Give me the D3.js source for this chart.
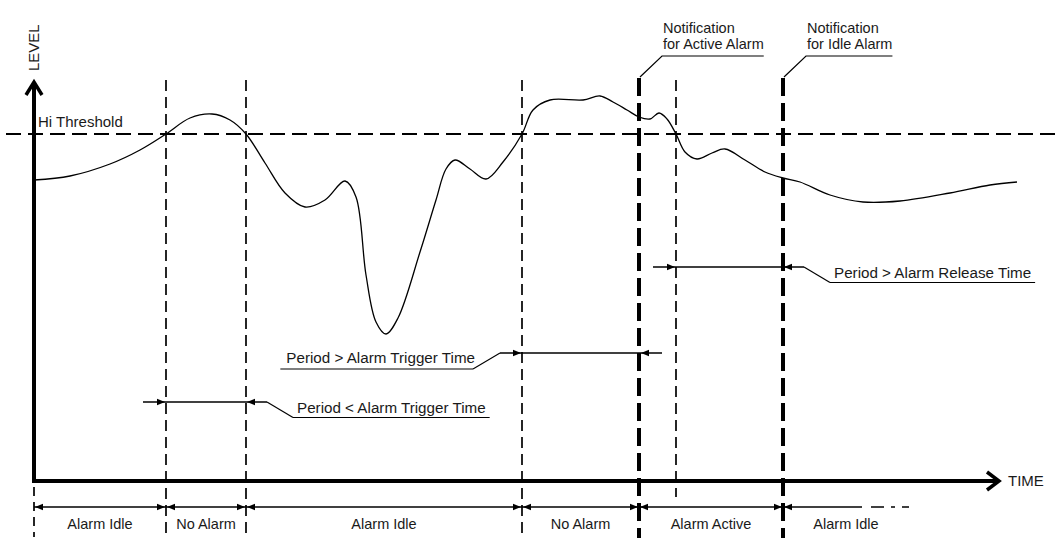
<!DOCTYPE html>
<html><head><meta charset="utf-8">
<script src="https://cdn.jsdelivr.net/npm/d3@7"></script>
<style>
body{margin:0;background:#fff}
text{font-family:"Liberation Sans",Arial,sans-serif;fill:#1a1a1a;font-size:14.5px}
</style>
</head><body><svg id="c" width="1062" height="554"></svg>
<script>
// ---- data (time units along x, level units along y) ----
const levelTimes  = [0,36,76,106,132,156,178,196,212,231,251,271,291,311,322,332,342,352,364,386,402,412,421,436,452,469,488,499,516,549,566,579,593,605,616,625,633,642,651,663,678,691,711,731,749,766,796,829,866,916,956,983];
const levelValues = [301,305,317,331,347,363,367,361,347,318,288,274,281,300,284,206,159,147,163,229,281,312,321,312,302,319,347,371,381,381,385,379,371,364,362,368,362,347,329,322,328,332,321,309,303,299,286,279,280,288,296,299];
const threshold = 347;
const thresholdLabel = "Hi Threshold";
const thinMarkers  = [132, 212, 488, 642];
const thickMarkers = [605, 749];
const segmentBounds = [0, 132, 212, 488, 605, 749];
const segmentLabels = ["Alarm Idle", "No Alarm", "Alarm Idle", "No Alarm", "Alarm Active", "Alarm Idle"];
const openEnd = 828;
const periodLabels = ["Period < Alarm Trigger Time", "Period > Alarm Trigger Time", "Period > Alarm Release Time"];
const periodStart = [132, 488, 642];
const periodEnd   = [212, 605, 749];
const periodLevel = [79, 128, 214];
const periodSide  = ["right", "left", "right"];
const notificationLabels = [["Notification", "for Active Alarm"], ["Notification", "for Idle Alarm"]];
const notificationTimes = [605, 749];
const axisLabels = {x: "TIME", y: "LEVEL"};

// ---- scales ----
const x = d3.scaleLinear().domain([0, 966]).range([34, 1000]);
const y = d3.scaleLinear().domain([0, 401]).range([481, 80]);

const svg = d3.select("#c");
svg.append("rect").attr("width",1062).attr("height",554).attr("fill","#fff");

function arrowHead(g, px, py, dir) { // dir: +1 points right, -1 points left
  g.append("path")
    .attr("d", `M${px},${py}L${px - dir*8},${py-3.2}L${px - dir*8},${py+3.2}Z`)
    .attr("fill", "#000");
}

// threshold line
svg.append("line").attr("x1", 6).attr("x2", 1062)
  .attr("y1", y(threshold)).attr("y2", y(threshold))
  .attr("stroke", "#000").attr("stroke-width", 2.2).attr("stroke-dasharray", "15,7");
svg.append("text").attr("x", 38).attr("y", y(threshold) - 7).style("font-size","15px").text(thresholdLabel);

// thin vertical markers
thinMarkers.forEach((t, i) => {
  svg.append("line").attr("x1", x(t)).attr("x2", x(t))
    .attr("y1", 80).attr("y2", t === 642 ? 497 : 537)
    .attr("stroke", "#000").attr("stroke-width", 1.7).attr("stroke-dasharray", "11,6");
});
// dashed under origin
svg.append("line").attr("x1", x(0)).attr("x2", x(0)).attr("y1", 487).attr("y2", 537)
  .attr("stroke", "#000").attr("stroke-width", 1.7).attr("stroke-dasharray", "9,6");

// thick markers
thickMarkers.forEach(t => {
  svg.append("line").attr("x1", x(t)).attr("x2", x(t))
    .attr("y1", 78).attr("y2", 538)
    .attr("stroke", "#000").attr("stroke-width", 4).attr("stroke-dasharray", "18,7");
});

// level curve
const line = d3.line().x((d, i) => x(levelTimes[i])).y(d => y(d)).curve(d3.curveCatmullRom.alpha(0.5));
svg.append("path").attr("d", line(levelValues))
  .attr("fill", "none").attr("stroke", "#000").attr("stroke-width", 1.3);

// axes
svg.append("line").attr("x1", x(0)).attr("x2", x(0)).attr("y1", 82).attr("y2", 483)
  .attr("stroke", "#000").attr("stroke-width", 4);
svg.append("path").attr("d", `M${x(0)-8},${95}L${x(0)},${82}L${x(0)+8},${95}`)
  .attr("fill", "none").attr("stroke", "#000").attr("stroke-width", 3.5);
svg.append("line").attr("x1", x(0) - 2).attr("x2", 998).attr("y1", y(0)).attr("y2", y(0))
  .attr("stroke", "#000").attr("stroke-width", 4);
svg.append("path").attr("d", `M${987},${y(0)-9}L${999},${y(0)}L${987},${y(0)+9}`)
  .attr("fill", "none").attr("stroke", "#000").attr("stroke-width", 3.5);
svg.append("text").attr("x", 1008).attr("y", y(0) + 5).style("font-size","15px").text(axisLabels.x);
svg.append("text").attr("transform", `translate(${x(0)+5},71) rotate(-90)`).style("font-size","15px").text(axisLabels.y);

// bottom state brackets
const by = 507;
const segEnds = segmentBounds.slice(1).concat([openEnd]);
segmentBounds.forEach((a, i) => {
  const b = segEnds[i];
  const last = i === segmentBounds.length - 1;
  svg.append("line").attr("x1", x(a)).attr("x2", x(b)).attr("y1", by).attr("y2", by)
    .attr("stroke", "#000").attr("stroke-width", 1.6);
  arrowHead(svg, x(a) + 1, by, -1);
  if (!last) arrowHead(svg, x(b) - 1, by, 1);
  const cx = last ? x(a) + 63 : (x(a) + x(b)) / 2;
  svg.append("text").attr("x", cx).attr("y", by + 22).attr("text-anchor", "middle").text(segmentLabels[i]);
});
svg.append("line").attr("x1", x(openEnd) + 9).attr("x2", x(openEnd) + 47).attr("y1", by).attr("y2", by)
  .attr("stroke", "#000").attr("stroke-width", 1.6).attr("stroke-dasharray", "13,7,4,7,7");

// period annotations
periodLabels.forEach((lab, i) => {
  const a = x(periodStart[i]), b = x(periodEnd[i]), py = y(periodLevel[i]);
  const g = svg.append("g");
  if (periodSide[i] === "right") {
    g.append("line").attr("x1", a - 23).attr("x2", b + 21).attr("y1", py).attr("y2", py).attr("stroke","#000").attr("stroke-width",1.6);
    arrowHead(g, a - 1, py, 1);
    arrowHead(g, b + 1, py, -1);
    g.append("path").attr("d", `M${b+21},${py}L${b+47},${py+15.5}`).attr("fill","none").attr("stroke","#000").attr("stroke-width",1.2);
    const t = g.append("text").attr("x", b + 51).attr("y", py + 11).style("font-size","15.2px").text(lab);
    const w = t.node().getComputedTextLength();
    g.append("line").attr("x1", b + 47).attr("x2", b + 55 + w).attr("y1", py + 15.5).attr("y2", py + 15.5).attr("stroke","#000").attr("stroke-width",1.2);
  } else {
    g.append("line").attr("x1", a - 22).attr("x2", b + 23).attr("y1", py).attr("y2", py).attr("stroke","#000").attr("stroke-width",1.6);
    arrowHead(g, a - 1, py, 1);
    arrowHead(g, b + 2, py, -1);
    g.append("path").attr("d", `M${a-22},${py}L${a-49},${py+16}`).attr("fill","none").attr("stroke","#000").attr("stroke-width",1.2);
    const t = g.append("text").attr("x", a - 47).attr("y", py + 10).attr("text-anchor","end").style("font-size","15.2px").text(lab);
    const w = t.node().getComputedTextLength();
    g.append("line").attr("x1", a - 49).attr("x2", a - 51 - w - 2).attr("y1", py + 16).attr("y2", py + 16).attr("stroke","#000").attr("stroke-width",1.2);
  }
});

// notifications
notificationLabels.forEach((lines, i) => {
  const px = x(notificationTimes[i]);
  const g = svg.append("g");
  let wmax = 0;
  lines.forEach((l, j) => {
    const t = g.append("text").attr("x", px + 24).attr("y", 33 + j * 16).text(l);
    wmax = Math.max(wmax, t.node().getComputedTextLength());
  });
  g.append("path").attr("d", `M${px+1},${77}L${px+23},${56}L${px+24+wmax},${56}`)
    .attr("fill","none").attr("stroke","#000").attr("stroke-width",1.2);
});
</script>
</body></html>
